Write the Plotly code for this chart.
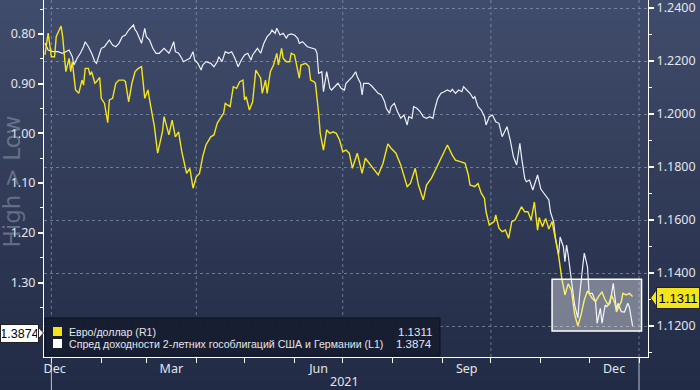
import plotly.graph_objects as go

# ---------------- data ----------------
eur_dates = [
    "2020-12-28", "2020-12-30", "2021-01-01", "2021-01-03", "2021-01-04", "2021-01-07", "2021-01-08",
    "2021-01-10", "2021-01-12", "2021-01-13", "2021-01-14", "2021-01-16", "2021-01-18", "2021-01-20",
    "2021-01-21", "2021-01-22", "2021-01-24", "2021-01-25", "2021-01-26", "2021-01-28", "2021-01-29",
    "2021-01-31", "2021-02-01", "2021-02-03", "2021-02-05", "2021-02-06", "2021-02-08", "2021-02-10",
    "2021-02-12", "2021-02-15", "2021-02-16", "2021-02-18", "2021-02-20", "2021-02-22", "2021-02-24",
    "2021-02-26", "2021-02-28", "2021-03-02", "2021-03-03", "2021-03-06", "2021-03-08", "2021-03-11",
    "2021-03-12", "2021-03-14", "2021-03-15", "2021-03-17", "2021-03-19", "2021-03-21", "2021-03-23",
    "2021-03-26", "2021-03-28", "2021-03-30", "2021-04-01", "2021-04-03", "2021-04-05", "2021-04-07",
    "2021-04-10", "2021-04-12", "2021-04-14", "2021-04-16", "2021-04-18", "2021-04-19", "2021-04-22",
    "2021-04-24", "2021-04-26", "2021-04-28", "2021-04-30", "2021-05-01", "2021-05-02", "2021-05-04",
    "2021-05-06", "2021-05-08", "2021-05-11", "2021-05-12", "2021-05-14", "2021-05-15", "2021-05-17",
    "2021-05-19", "2021-05-21", "2021-05-22", "2021-05-24", "2021-05-25", "2021-05-27", "2021-05-29",
    "2021-05-30", "2021-06-01", "2021-06-04", "2021-06-05", "2021-06-08", "2021-06-10", "2021-06-11",
    "2021-06-13", "2021-06-14", "2021-06-16", "2021-06-17", "2021-06-19", "2021-06-21", "2021-06-23",
    "2021-06-25", "2021-06-27", "2021-06-29", "2021-07-01", "2021-07-03", "2021-07-05", "2021-07-07",
    "2021-07-10", "2021-07-13", "2021-07-15", "2021-07-19", "2021-07-21", "2021-07-23", "2021-07-26",
    "2021-07-29", "2021-07-31", "2021-08-03", "2021-08-06", "2021-08-08", "2021-08-10", "2021-08-12",
    "2021-08-15", "2021-08-17", "2021-08-20", "2021-08-22", "2021-08-25", "2021-08-27", "2021-08-29",
    "2021-08-31", "2021-09-04", "2021-09-07", "2021-09-09", "2021-09-12", "2021-09-15", "2021-09-17",
    "2021-09-18", "2021-09-21", "2021-09-23", "2021-09-25", "2021-09-27", "2021-09-28", "2021-09-30",
    "2021-10-03", "2021-10-04", "2021-10-06", "2021-10-08", "2021-10-10", "2021-10-12", "2021-10-14",
    "2021-10-16", "2021-10-18", "2021-10-20", "2021-10-22", "2021-10-24", "2021-10-26", "2021-10-28",
    "2021-10-30", "2021-10-31", "2021-11-02", "2021-11-04", "2021-11-06", "2021-11-08", "2021-11-10",
    "2021-11-12", "2021-11-14", "2021-11-16", "2021-11-18", "2021-11-20", "2021-11-22", "2021-11-24",
    "2021-11-26", "2021-11-28", "2021-11-30", "2021-12-03", "2021-12-05", "2021-12-07", "2021-12-09",
    "2021-12-11", "2021-12-13", "2021-12-15", "2021-12-17", "2021-12-18", "2021-12-21", "2021-12-22",
    "2021-12-24", "2021-12-26", "2021-12-28",
]
eur_values = [
    1.2223, 1.2305, 1.2216, 1.2216, 1.2292, 1.2332, 1.2292,
    1.2160, 1.2210, 1.2160, 1.2197, 1.2091, 1.2078, 1.2128,
    1.2109, 1.2172, 1.2172, 1.2147, 1.2160, 1.2116, 1.2122,
    1.2138, 1.2059, 1.2040, 1.1967, 1.2053, 1.2059, 1.2116,
    1.2128, 1.2128, 1.2122, 1.2046, 1.2116, 1.2160, 1.2172,
    1.2179, 1.2059, 1.2091, 1.2053, 1.1952, 1.1852, 1.1933,
    1.1990, 1.1946, 1.1921, 1.1977, 1.1914, 1.1933, 1.1858,
    1.1776, 1.1795, 1.1720, 1.1763, 1.1776, 1.1839, 1.1883,
    1.1914, 1.1921, 1.1965, 1.1984, 1.2003, 1.2040, 1.2028,
    1.2103, 1.2097, 1.2122, 1.2128, 1.2053, 1.2065, 1.2015,
    1.2046, 1.2166, 1.2135, 1.2078, 1.2128, 1.2078, 1.2160,
    1.2185, 1.2229, 1.2185, 1.2248, 1.2210, 1.2197, 1.2197,
    1.2229, 1.2223, 1.2135, 1.2185, 1.2191, 1.2179, 1.2128,
    1.2122, 1.2116, 1.2003, 1.1927, 1.1864, 1.1940, 1.1927,
    1.1933, 1.1927, 1.1902, 1.1858, 1.1864, 1.1852, 1.1795,
    1.1852, 1.1776, 1.1833, 1.1801, 1.1782, 1.1770, 1.1814,
    1.1887, 1.1871, 1.1852, 1.1808, 1.1770, 1.1726, 1.1738,
    1.1795, 1.1732, 1.1676, 1.1732, 1.1757, 1.1782, 1.1808,
    1.1833, 1.1883, 1.1845, 1.1826, 1.1820, 1.1814, 1.1770,
    1.1732, 1.1726, 1.1738, 1.1701, 1.1682, 1.1631, 1.1581,
    1.1594, 1.1619, 1.1569, 1.1556, 1.1562, 1.1531, 1.1594,
    1.1600, 1.1625, 1.1650, 1.1631, 1.1631, 1.1600, 1.1668,
    1.1562, 1.1609, 1.1575, 1.1606, 1.1566, 1.1594, 1.1531,
    1.1468, 1.1381, 1.1317, 1.1359, 1.1336, 1.1245, 1.1200,
    1.1242, 1.1298, 1.1332, 1.1304, 1.1292, 1.1313, 1.1328,
    1.1298, 1.1279, 1.1317, 1.1286, 1.1253, 1.1292, 1.1323,
    1.1317, 1.1323, 1.1311,
]

spread_dates = [
    "2020-12-28", "2020-12-30", "2021-01-02", "2021-01-05", "2021-01-08", "2021-01-12", "2021-01-14",
    "2021-01-15", "2021-01-17", "2021-01-19", "2021-01-21", "2021-01-22", "2021-01-24", "2021-01-26",
    "2021-01-28", "2021-01-29", "2021-01-31", "2021-02-01", "2021-02-03", "2021-02-06", "2021-02-08",
    "2021-02-10", "2021-02-12", "2021-02-14", "2021-02-16", "2021-02-18", "2021-02-21", "2021-02-22",
    "2021-02-23", "2021-02-25", "2021-02-26", "2021-02-28", "2021-03-01", "2021-03-03", "2021-03-05",
    "2021-03-07", "2021-03-09", "2021-03-12", "2021-03-15", "2021-03-16", "2021-03-18", "2021-03-19",
    "2021-03-21", "2021-03-23", "2021-03-24", "2021-03-26", "2021-03-28", "2021-03-30", "2021-03-31",
    "2021-04-02", "2021-04-04", "2021-04-05", "2021-04-07", "2021-04-10", "2021-04-12", "2021-04-14",
    "2021-04-15", "2021-04-17", "2021-04-19", "2021-04-21", "2021-04-23", "2021-04-25", "2021-04-27",
    "2021-04-29", "2021-05-01", "2021-05-03", "2021-05-05", "2021-05-06", "2021-05-09", "2021-05-11",
    "2021-05-13", "2021-05-15", "2021-05-17", "2021-05-18", "2021-05-20", "2021-05-21", "2021-05-23",
    "2021-05-25", "2021-05-27", "2021-05-28", "2021-05-30", "2021-06-01", "2021-06-03", "2021-06-04",
    "2021-06-06", "2021-06-09", "2021-06-12", "2021-06-14", "2021-06-15", "2021-06-16", "2021-06-18",
    "2021-06-19", "2021-06-21", "2021-06-23", "2021-06-24", "2021-06-26", "2021-06-28", "2021-06-30",
    "2021-07-02", "2021-07-03", "2021-07-05", "2021-07-07", "2021-07-09", "2021-07-10", "2021-07-12",
    "2021-07-13", "2021-07-14", "2021-07-17", "2021-07-19", "2021-07-21", "2021-07-23", "2021-07-25",
    "2021-07-27", "2021-07-28", "2021-07-30", "2021-07-31", "2021-08-02", "2021-08-04", "2021-08-06",
    "2021-08-08", "2021-08-10", "2021-08-11", "2021-08-13", "2021-08-14", "2021-08-16", "2021-08-18",
    "2021-08-20", "2021-08-22", "2021-08-24", "2021-08-26", "2021-08-27", "2021-08-29", "2021-08-31",
    "2021-09-02", "2021-09-04", "2021-09-06", "2021-09-07", "2021-09-09", "2021-09-11", "2021-09-13",
    "2021-09-14", "2021-09-16", "2021-09-18", "2021-09-20", "2021-09-21", "2021-09-23", "2021-09-25",
    "2021-09-27", "2021-09-28", "2021-09-30", "2021-10-02", "2021-10-04", "2021-10-06", "2021-10-08",
    "2021-10-10", "2021-10-11", "2021-10-13", "2021-10-15", "2021-10-17", "2021-10-19", "2021-10-20",
    "2021-10-22", "2021-10-23", "2021-10-25", "2021-10-27", "2021-10-28", "2021-10-30", "2021-11-01",
    "2021-11-04", "2021-11-06", "2021-11-07", "2021-11-09", "2021-11-10", "2021-11-12", "2021-11-13",
    "2021-11-15", "2021-11-16", "2021-11-17", "2021-11-18", "2021-11-19", "2021-11-21", "2021-11-22",
    "2021-11-24", "2021-11-25", "2021-11-27", "2021-11-28", "2021-11-30", "2021-12-01", "2021-12-03",
    "2021-12-05", "2021-12-06", "2021-12-08", "2021-12-09", "2021-12-11", "2021-12-12", "2021-12-14",
    "2021-12-15", "2021-12-16", "2021-12-18", "2021-12-19", "2021-12-21", "2021-12-23", "2021-12-25",
    "2021-12-26", "2021-12-28",
]
spread_values = [
    0.8181, 0.8322, 0.8356, 0.8356, 0.8388, 0.8322, 0.8457,
    0.8624, 0.8489, 0.8388, 0.8256, 0.8155, 0.8256, 0.8388,
    0.8557, 0.8590, 0.8388, 0.8288, 0.8256, 0.8121, 0.8221,
    0.8256, 0.8187, 0.8054, 0.8020, 0.7920, 0.7819, 0.7920,
    0.7954, 0.8121, 0.8187, 0.7885, 0.8054, 0.8121, 0.8288,
    0.8388, 0.8388, 0.8288, 0.8388, 0.8322, 0.8155, 0.8356,
    0.8388, 0.8489, 0.8557, 0.8523, 0.8489, 0.8356, 0.8523,
    0.8590, 0.8724, 0.8624, 0.8557, 0.8590, 0.8658, 0.8557,
    0.8457, 0.8557, 0.8356, 0.8388, 0.8356, 0.8489, 0.8658,
    0.8523, 0.8423, 0.8388, 0.8523, 0.8423, 0.8288, 0.8388,
    0.8187, 0.8054, 0.7986, 0.7920, 0.7986, 0.7885, 0.8020,
    0.7986, 0.8087, 0.8020, 0.8000, 0.8020, 0.8087, 0.8187,
    0.8155, 0.8256, 0.8288, 0.8308, 0.8388, 0.8791, 0.8759,
    0.9161, 0.8759, 0.9093, 0.9127, 0.9060, 0.8992, 0.9093,
    0.9127, 0.8992, 0.8926, 0.8859, 0.8759, 0.8859, 0.8992,
    0.9227, 0.8992, 0.8992, 0.9046, 0.9127, 0.9193, 0.9227,
    0.9362, 0.9495, 0.9596, 0.9463, 0.9394, 0.9563, 0.9696,
    0.9630, 0.9831, 0.9664, 0.9696, 0.9463, 0.9495, 0.9563,
    0.9664, 0.9696, 0.9664, 0.9696, 0.9529, 0.9294, 0.9193,
    0.9161, 0.9127, 0.9161, 0.9113, 0.9193, 0.9127, 0.9161,
    0.9060, 0.9127, 0.9193, 0.9294, 0.9262, 0.9463, 0.9529,
    0.9664, 0.9831, 0.9664, 0.9630, 0.9765, 0.9797, 1.0066,
    0.9932, 0.9865, 1.0133, 1.0469, 1.0636, 1.0199, 1.0469,
    1.0904, 1.0972, 1.0938, 1.1139, 1.1038, 1.0837, 1.1119,
    1.1240, 1.1340, 1.1582, 1.1783, 1.2079, 1.2447, 1.2085,
    1.2280, 1.2582, 1.2246, 1.2447, 1.2682, 1.3151, 1.3453,
    1.3714, 1.3292, 1.2688, 1.2407, 1.2688, 1.3217, 1.3217,
    1.3386, 1.3821, 1.3519, 1.3821, 1.3453, 1.3487, 1.3419,
    1.3217, 1.3016, 1.3553, 1.3419, 1.3588, 1.3594, 1.3419,
    1.3493, 1.3874,
]

series_names = ["Евро/доллар (R1)",
                "Спред доходности 2-летних гособлигаций США и Германии (L1)"]
left_axis_title = "High > Low"
left_ticks = [0.80, 0.90, 1.00, 1.10, 1.20, 1.30, 1.40]
right_ticks = [1.12, 1.14, 1.16, 1.18, 1.20, 1.22, 1.24]
month_labels = ["Dec", "Mar", "Jun", "Sep", "Dec"]
month_label_dates = ["2021-01-03", "2021-03-16 12:00", "2021-06-16",
                     "2021-09-16", "2021-12-16 12:00"]
month_tick_dates = ["2021-%02d-01" % m for m in range(1, 13)] + ["2022-01-01"]
quarter_grid_dates = ["2021-01-01", "2021-04-01", "2021-07-01", "2021-10-01", "2022-01-01"]
year_boundaries = ["2021-01-01", "2022-01-01"]
year_label = "2021"
year_label_date = "2021-07-02"

# ---------------- style ----------------
W, H = 700, 390
ML, MR, MT, MB = 44, 52, 0, 33
PW, PH = W - ML - MR, H - MT - MB
FONT = "Noto Sans"
LFONT = "Liberation Sans"
YELLOW = "#f4e41c"
WHITE_LINE = "#eef0f8"
TXT = "#e2e5ec"
GRID = "rgba(165,175,198,0.55)"


def px_x(px):
    return (px - ML) / PW


def px_y(py):
    return (H - MB - py) / PH


fig = go.Figure()

fig.add_trace(go.Scatter(x=spread_dates, y=spread_values, mode="lines", yaxis="y",
                         line=dict(color=WHITE_LINE, width=1.2), name=series_names[1],
                         showlegend=False, hoverinfo="skip"))
fig.add_trace(go.Scatter(x=eur_dates, y=eur_values, mode="lines", yaxis="y2",
                         line=dict(color=YELLOW, width=1.4), name=series_names[0],
                         showlegend=False, hoverinfo="skip"))

shapes = []
# background gradient
n = 39
top, bot = (64, 76, 107), (34, 43, 69)
for i in range(n):
    t = i / (n - 1)
    c = tuple(int(round(top[k] + (bot[k] - top[k]) * t)) for k in range(3))
    y0 = i * H / n
    y1 = (i + 1) * H / n + 0.6
    shapes.append(dict(type="rect", xref="paper", yref="paper", layer="below",
                       x0=px_x(0), x1=px_x(W), y0=px_y(y1), y1=px_y(y0),
                       fillcolor="rgb(%d,%d,%d)" % c, line=dict(width=0)))
# vertical dashed grid at quarter boundaries
for d in quarter_grid_dates:
    shapes.append(dict(type="line", xref="x", yref="paper", layer="below",
                       x0=d, x1=d, y0=0, y1=1,
                       line=dict(color=GRID, width=1, dash="3px,3px")))
# long ticks at year boundaries
for d in year_boundaries:
    shapes.append(dict(type="line", xref="x", yref="paper", x0=d, x1=d,
                       y0=0, y1=px_y(H), line=dict(color="rgba(215,220,230,0.85)", width=1)))
# highlighted box
shapes.append(dict(type="rect", xref="x", yref="y2", layer="above",
                   x0="2021-11-08", x1="2022-01-02 14:00", y0=1.1181, y1=1.1376,
                   fillcolor="rgba(255,255,255,0.38)", line=dict(color="white", width=1.5)))
# legend box
shapes.append(dict(type="rect", xref="paper", yref="paper",
                   x0=px_x(45), x1=px_x(440), y0=px_y(356), y1=px_y(318),
                   fillcolor="rgba(24,30,50,0.97)", line=dict(color="#0c101c", width=1)))
shapes.append(dict(type="rect", xref="paper", yref="paper",
                   x0=px_x(53), x1=px_x(62), y0=px_y(336), y1=px_y(327),
                   fillcolor=YELLOW, line=dict(width=0)))
shapes.append(dict(type="rect", xref="paper", yref="paper",
                   x0=px_x(53), x1=px_x(62), y0=px_y(348), y1=px_y(339),
                   fillcolor="white", line=dict(width=0)))
# value tag tips
lp = [(36, 324.5), (43.5, 333), (36, 341.5)]
shapes.append(dict(type="path", xref="paper", yref="paper",
                   path="M " + " L ".join("%f,%f" % (px_x(a), px_y(b)) for a, b in lp) + " Z",
                   fillcolor="white", line=dict(color="#222", width=1)))
rp = [(658, 287.5), (650.5, 298), (658, 308.5)]
shapes.append(dict(type="path", xref="paper", yref="paper",
                   path="M " + " L ".join("%f,%f" % (px_x(a), px_y(b)) for a, b in rp) + " Z",
                   fillcolor=YELLOW, line=dict(color="#222", width=1)))

annotations = [
    dict(text=left_axis_title, xref="paper", yref="paper", x=px_x(11.5), y=px_y(182),
         textangle=-90, showarrow=False, xanchor="center", yanchor="middle",
         font=dict(family="DejaVu Sans", size=23, color="rgba(190,196,210,0.38)")),
    dict(text=year_label, xref="x", yref="paper", x=year_label_date, y=px_y(381),
         showarrow=False, xanchor="center", yanchor="middle",
         font=dict(family=FONT, size=12.5, color=TXT)),
    dict(text=series_names[0], xref="paper", yref="paper", x=px_x(67), y=px_y(331.5),
         showarrow=False, xanchor="left", yanchor="middle",
         font=dict(family=LFONT, size=10.6, color=TXT)),
    dict(text=series_names[1], xref="paper", yref="paper", x=px_x(67), y=px_y(343.5),
         showarrow=False, xanchor="left", yanchor="middle",
         font=dict(family=LFONT, size=10.6, color=TXT)),
    dict(text="%.4f" % eur_values[-1], xref="paper", yref="paper", x=px_x(434), y=px_y(331.5),
         showarrow=False, xanchor="right", yanchor="middle",
         font=dict(family=LFONT, size=11.5, color=TXT)),
    dict(text="%.4f" % spread_values[-1], xref="paper", yref="paper", x=px_x(434), y=px_y(343.5),
         showarrow=False, xanchor="right", yanchor="middle",
         font=dict(family=LFONT, size=11.5, color=TXT)),
    # value tags (boxes drawn by the annotation background so they cover tick text)
    dict(text="%.4f" % spread_values[-1], xref="paper", yref="paper", x=px_x(0), y=px_y(333),
         showarrow=False, xanchor="left", yanchor="middle", width=35, height=15,
         bgcolor="white", bordercolor="#222", borderwidth=1, borderpad=1,
         font=dict(family=LFONT, size=12.5, color="black")),
    dict(text="%.4f" % eur_values[-1], xref="paper", yref="paper", x=px_x(700), y=px_y(298),
         showarrow=False, xanchor="right", yanchor="middle", width=40, height=18,
         bgcolor=YELLOW, bordercolor="#222", borderwidth=1, borderpad=1,
         font=dict(family=LFONT, size=13, color="black")),
]

fig.update_layout(
    width=W, height=H,
    margin=dict(l=ML, r=MR, t=MT, b=MB, pad=0),
    paper_bgcolor="#2a3454", plot_bgcolor="rgba(0,0,0,0)",
    showlegend=False,
    shapes=shapes, annotations=annotations,
    xaxis=dict(type="date", range=["2020-12-27 10:00", "2022-01-06 14:00"],
               showgrid=False, zeroline=False, showline=True, linecolor="white", linewidth=1,
               tickmode="array", tickvals=month_label_dates, ticktext=month_labels,
               ticks="outside", ticklen=0, tickcolor="rgba(0,0,0,0)",
               tickfont=dict(family=FONT, size=12.5, color=TXT),
               minor=dict(tickmode="array", tickvals=month_tick_dates, ticks="outside",
                          ticklen=5, tickwidth=1, tickcolor="white", showgrid=False)),
    yaxis=dict(range=[1.4499, 0.7316], tickmode="array", tickvals=left_ticks,
               tickformat=".2f", showgrid=False, zeroline=False,
               showline=True, linecolor="white", linewidth=1,
               ticks="outside", ticklen=5, tickwidth=2, tickcolor="white",
               ticklabeloverflow="allow",
               tickfont=dict(family=FONT, size=12.5, color=TXT),
               minor=dict(tick0=0.75, dtick=0.1, ticks="outside", ticklen=3,
                          tickwidth=1, tickcolor="white", showgrid=False)),
    yaxis2=dict(range=[1.10830, 1.24302], overlaying="y", side="right",
                tickmode="array", tickvals=right_ticks, tickformat=".4f",
                showgrid=True, gridcolor=GRID, griddash="3px,3px", gridwidth=1,
                zeroline=False, showline=True, linecolor="white", linewidth=1,
                ticks="outside", ticklen=5, tickwidth=2, tickcolor="white",
                ticklabeloverflow="allow",
                tickfont=dict(family=FONT, size=12.5, color=TXT),
                minor=dict(tick0=1.11, dtick=0.02, ticks="outside", ticklen=3,
                           tickwidth=1, tickcolor="white", showgrid=False)),
)

fig.write_html("out.html", config={"displayModeBar": False},
               post_script="document.body.style.margin='0';")
